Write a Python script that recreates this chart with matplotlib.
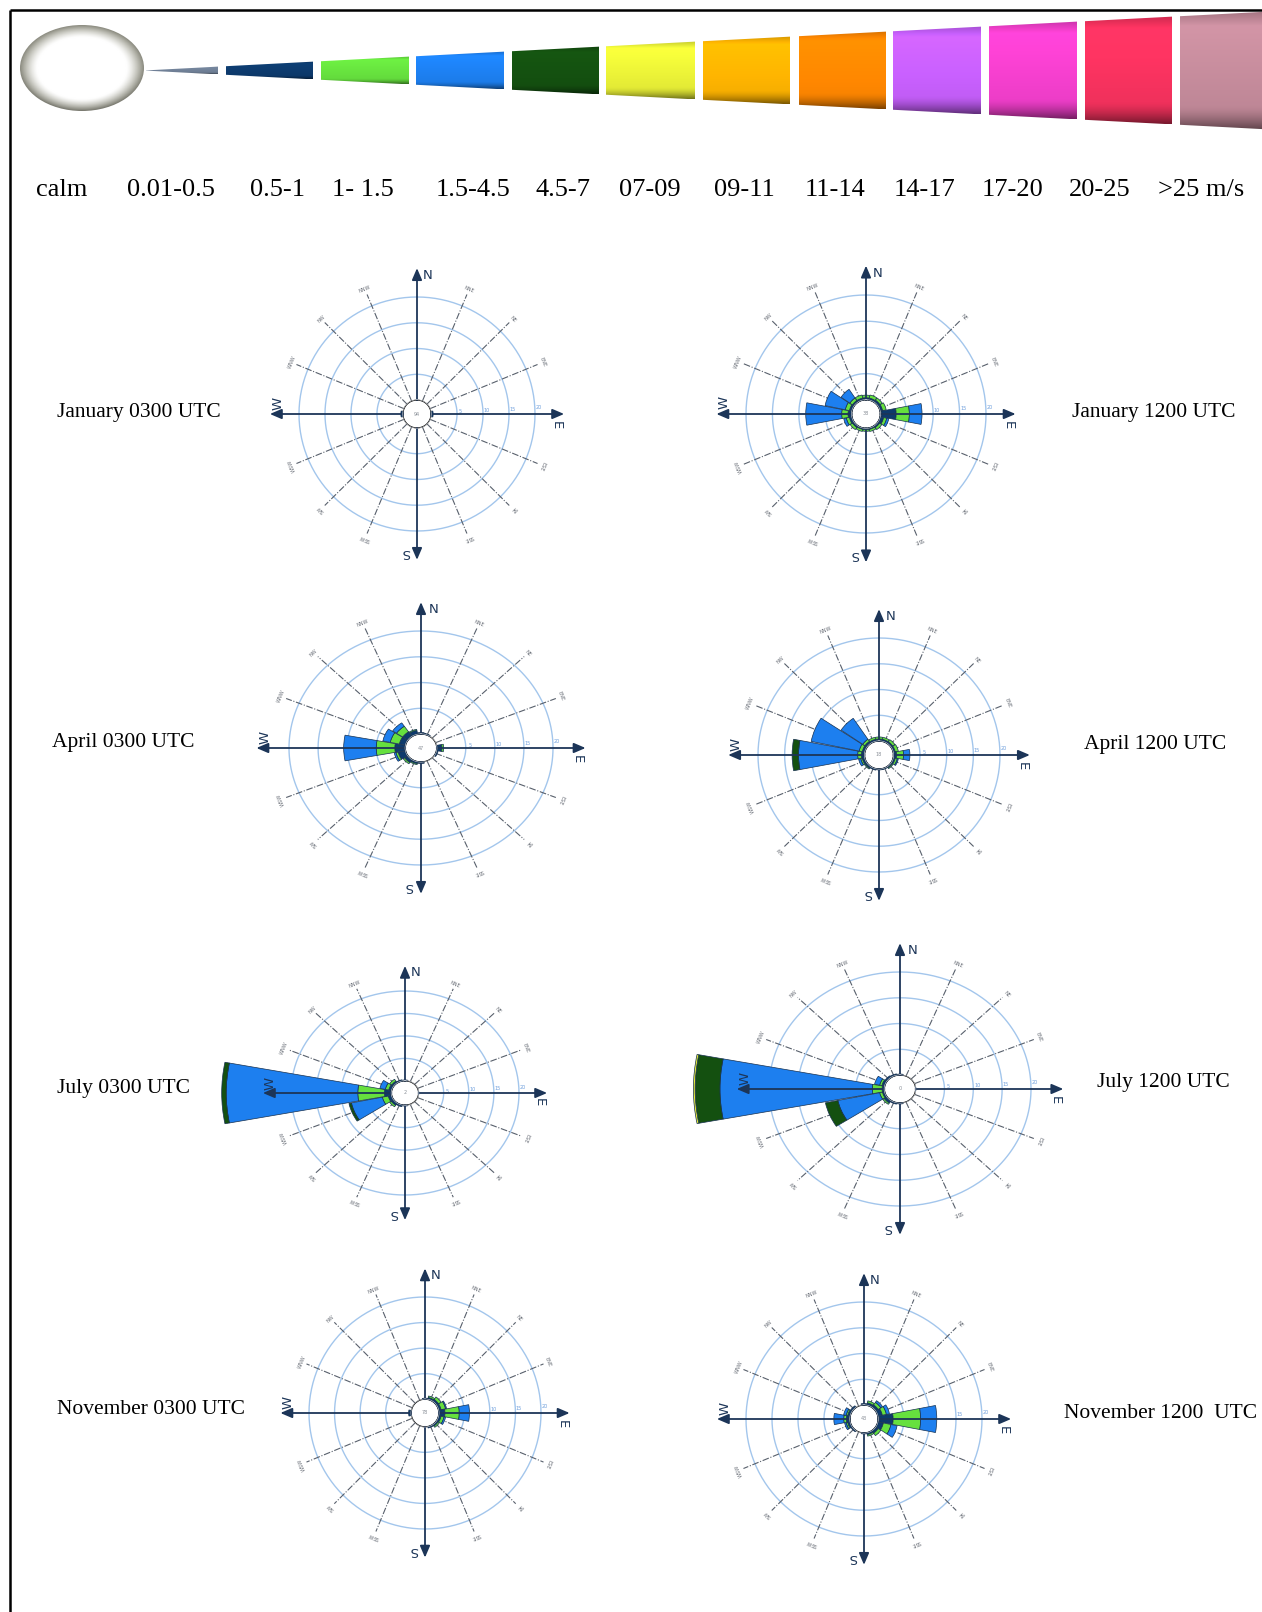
import numpy as np
import matplotlib.pyplot as plt
from matplotlib.patches import Polygon, Ellipse

W_PX, H_PX = 1262, 1612

# speed classes (m/s) and their colours
SPEED_LABELS = ['calm', '0.01-0.5', '0.5-1', '1- 1.5', '1.5-4.5', '4.5-7', '07-09',
                '09-11', '11-14', '14-17', '17-20', '20-25', '>25 m/s']
SPEED_COLORS = ['#6f7f95', '#0d3a6c', '#66e03e', '#1d7fef', '#145010', '#e9f037',
                '#fdb300', '#ff8700', '#c65ffb', '#f23fcc', '#f5325e', '#c38a9a']

DIRECTIONS = ['N', 'NNE', 'NE', 'ENE', 'E', 'ESE', 'SE', 'SSE',
              'S', 'SSW', 'SW', 'WSW', 'W', 'WNW', 'NW', 'NNW']
RING_VALUES = [5, 10, 15, 20]

# frequency (%) per direction, stacked by speed class
jan_0300 = {'E': [0.1, 0.3], 'W': [0.1, 0.3]}
jan_1200 = {
    'N': [0.1, 0.3, 0.5], 'NNE': [0.1, 0.3, 0.6], 'NE': [0.1, 0.4, 0.5], 'ENE': [0.1, 0.4, 0.7],
    'E': [0.3, 2.7, 2.5, 2.4], 'ESE': [0.1, 0.6, 0.6, 0.4], 'SE': [0.1, 0.3, 0.5], 'SSE': [0.1, 0.2, 0.4],
    'S': [0.1, 0.2, 0.3], 'SSW': [0.1, 0.2, 0.4], 'SW': [0.1, 0.3, 0.5], 'WSW': [0.1, 0.4, 0.6, 0.5],
    'W': [0.1, 0.6, 1.2, 6.8], 'WNW': [0.1, 0.4, 0.8, 3.9], 'NW': [0.1, 0.3, 0.6, 2.0], 'NNW': [0.1, 0.3, 0.6],
}
apr_0300 = {
    'N': [0.1, 0.2], 'NNE': [0.1, 0.1], 'E': [0.1, 0.8, 0.3], 'ESE': [0.1, 0.2],
    'S': [0.1, 0.2], 'SSW': [0.1, 0.3, 0.2], 'SW': [0.1, 0.6, 0.3], 'WSW': [0.1, 1.2, 0.4, 0.3],
    'W': [0.1, 1.7, 3.2, 5.6], 'WNW': [0.1, 1.0, 1.6, 1.3], 'NW': [0.1, 1.0, 1.3, 0.8], 'NNW': [0.1, 0.7, 0.2],
}
apr_1200 = {
    'N': [0.1, 0.3, 0.4], 'NNE': [0.1, 0.3, 0.4], 'NE': [0.1, 0.3, 0.5], 'ENE': [0.1, 0.3, 0.6],
    'E': [0.1, 0.5, 1.3, 1.2], 'ESE': [0.1, 0.3, 0.4, 0.2], 'SE': [0.1, 0.2, 0.2], 'SSE': [0.1, 0.1],
    'S': [0.1, 0.1], 'SSW': [0.1, 0.2], 'SW': [0.1, 0.3, 0.2], 'WSW': [0.1, 0.4, 0.3, 0.4],
    'W': [0.1, 0.5, 0.7, 11.1, 1.2], 'WNW': [0.1, 0.4, 0.6, 9.2], 'NW': [0.1, 0.4, 0.5, 4.9], 'NNW': [0.1, 0.3, 0.4],
}
jul_0300 = {
    'N': [0.1, 0.1], 'E': [0.05], 'S': [0.1, 0.1], 'SSW': [0.1, 0.3], 'SW': [0.1, 0.5, 0.4],
    'WSW': [0.1, 0.6, 1.2, 6.3, 0.5], 'W': [0.2, 1.2, 5.3, 26.2, 0.9],
    'WNW': [0.1, 0.5, 0.7, 1.1], 'NW': [0.1, 0.4, 0.5], 'NNW': [0.1, 0.2],
}
jul_1200 = {
    'N': [0.1, 0.1], 'NNW': [0.1, 0.2], 'NW': [0.1, 0.3], 'WNW': [0.1, 0.4, 0.4, 0.9],
    'W': [0.1, 0.3, 1.7, 26.4, 4.3, 0.3], 'WSW': [0.1, 0.3, 0.5, 7.4, 2.2],
    'SW': [0.1, 0.5, 0.3], 'SSW': [0.1, 0.2], 'S': [0.1, 0.1], 'E': [0.05],
}
nov_0300 = {
    'N': [0.1, 0.1], 'NNE': [0.1, 0.3, 0.3], 'NE': [0.1, 0.4, 0.6], 'ENE': [0.1, 0.4, 0.9, 0.2],
    'E': [0.1, 1.1, 2.8, 2.0], 'ESE': [0.1, 0.4, 0.6, 0.3], 'SE': [0.1, 0.3, 0.3], 'SSE': [0.1, 0.2],
    'W': [0.1, 0.4],
}
nov_1200 = {
    'N': [0.1, 0.2], 'NNE': [0.1, 0.4, 0.4], 'NE': [0.1, 0.5, 0.6, 0.4], 'ENE': [0.1, 0.8, 0.8, 0.6],
    'E': [0.2, 2.7, 5.3, 3.1], 'ESE': [0.1, 1.0, 1.5, 1.2], 'SE': [0.1, 0.5, 0.6], 'SSE': [0.1, 0.3, 0.3],
    'S': [0.1, 0.1], 'SW': [0.1, 0.2], 'WSW': [0.1, 0.4, 0.3, 0.3], 'W': [0.1, 0.6, 0.5, 1.9],
    'WNW': [0.1, 0.4, 0.3, 0.5], 'NW': [0.1, 0.3],
}

ROSE_TITLES = ['January 0300 UTC', 'January 1200 UTC', 'April 0300 UTC', 'April 1200 UTC',
               'July 0300 UTC', 'July 1200 UTC', 'November 0300 UTC', 'November 1200  UTC']
ROSE_DATA = [jan_0300, jan_1200, apr_0300, apr_1200, jul_0300, jul_1200, nov_0300, nov_1200]
CALM_VALUES = ['94', '38', '47', '18', '2', '0', '78', '43']

# rose centre / half sizes (px) and title anchor (px)
ROSE_BOX = [(417, 414, 118, 117), (866, 414, 120, 119), (421, 748, 132, 117), (879, 755, 121, 117),
            (405, 1093, 114, 102), (900, 1089, 131, 117), (425, 1413, 116, 116), (864, 1419, 118, 117)]
TITLE_POS = [(57, 412), (1072, 412), (52, 742), (1084, 745),
             (57, 1088), (1097, 1082), (57, 1410), (1064, 1413)]

LEGEND_X = [36, 127, 250, 332, 436, 536, 619, 714, 805, 894, 982, 1069, 1158]
SEGMENT_X = [(146, 218), (226, 313), (321, 409), (416, 504), (512, 599), (606, 695),
             (703, 790), (799, 886), (893, 981), (989, 1077), (1085, 1172), (1180, 1270)]

HOLE = 2.7
SPOKE_R = 22.4
ARROW_R = 25.6
RING_COLOR = '#a3c6ec'
AXIS_COLOR = '#1c3558'
SPOKE_COLOR = '#58606c'
SERIF = 'Liberation Serif'

fig = plt.figure(figsize=(W_PX / 100, H_PX / 100), dpi=100)

# background layer: frame and the speed scale
bg = fig.add_axes([0, 0, 1, 1])
bg.axis('off')
bg.plot([10, 10], [10, H_PX], color='black', lw=1.8, solid_capstyle='butt')
bg.plot([10, W_PX], [10, 10], color='black', lw=1.8, solid_capstyle='butt')

tip_x, mid_y, slope = 144, 70.5, 0.0524
v = np.linspace(0, 1, 60)[:, None]
shade = 1.1 - 0.15 * v - 0.45 * np.clip((v - 0.8) / 0.2, 0, 1) ** 1.5 - 0.25 * np.clip((0.12 - v) / 0.12, 0, 1)
for (x0, x1), col in zip(SEGMENT_X, SPEED_COLORS):
    h0, h1 = slope * (x0 - tip_x), slope * (x1 - tip_x)
    verts = [(x0, mid_y - h0), (x1, mid_y - h1), (x1, mid_y + h1), (x0, mid_y + h0)]
    poly = Polygon(verts, closed=True, facecolor='none', edgecolor='none')
    bg.add_patch(poly)
    rgb = np.array(plt.matplotlib.colors.to_rgb(col))
    img = np.clip(rgb[None, None, :] * shade[:, :, None], 0, 1)
    img = np.repeat(img, 2, axis=1)
    im = bg.imshow(img, extent=(x0, x1, mid_y + h1, mid_y - h1), origin='upper',
                   aspect='auto', interpolation='bilinear')
    im.set_clip_path(poly)

# calm disc: white face with a grey rim
ecx, ecy, ea, eb = 82, 68, 62, 43
gx, gy = np.meshgrid(np.linspace(-1, 1, 200), np.linspace(-1, 1, 140))
rr = np.sqrt(gx ** 2 + gy ** 2)
rim = np.clip((rr - 0.72) / 0.28, 0, 1) ** 1.4
tone = 1 - 0.45 * rim - 0.08 * np.clip(gy, 0, 1) * rim
disc = np.dstack([tone, tone, tone * (1 - 0.08 * rim)])
ell = Ellipse((ecx, ecy), 2 * ea, 2 * eb, facecolor='none', edgecolor='none')
bg.add_patch(ell)
im = bg.imshow(np.clip(disc, 0, 1), extent=(ecx - ea, ecx + ea, ecy + eb, ecy - eb),
               origin='upper', aspect='auto', interpolation='bilinear')
im.set_clip_path(ell)

bg.set_xlim(0, W_PX)
bg.set_ylim(H_PX, 0)

for x, lab in zip(LEGEND_X, SPEED_LABELS):
    fig.text(x / W_PX, 1 - 190 / H_PX, lab, fontsize=19, family=SERIF, ha='left', va='center')

thetas = np.radians(np.arange(16) * 22.5)
bar_w = np.radians(22.5) * 0.96
circle = np.linspace(0, 2 * np.pi, 361)


def draw_rose(box, data, calm):
    cx, cy, rx, ry = box
    ax = fig.add_axes([(cx - rx) / W_PX, 1 - (cy + ry) / H_PX, 2 * rx / W_PX, 2 * ry / H_PX],
                      projection='polar')
    ax.set_theta_zero_location('N')
    ax.set_theta_direction(-1)
    ax.set_ylim(0, 20)
    ax.set_rorigin(-HOLE)
    ax.set_aspect('auto')
    ax.set_xticks([])
    ax.set_yticks([])
    ax.grid(False)
    for sp in ax.spines.values():
        sp.set_visible(False)
    ax.patch.set_alpha(0)

    for r in RING_VALUES:
        ax.plot(circle, np.full_like(circle, r), color=RING_COLOR, lw=1.0, zorder=1, clip_on=False)
        ax.text(np.radians(87), r + 0.7, str(r), fontsize=3.5, color='#6f9fdc',
                ha='center', va='center', zorder=1)
    ax.plot(circle, np.zeros_like(circle), color='#cfd3d8', lw=0.8, zorder=5)

    for i, name in enumerate(DIRECTIONS):
        th = thetas[i]
        if name in ('N', 'E', 'S', 'W'):
            ax.annotate('', xy=(th, ARROW_R), xytext=(th, 0), annotation_clip=False,
                        arrowprops=dict(arrowstyle='-|>,head_length=0.7,head_width=0.3',
                                        color=AXIS_COLOR, lw=1.3, shrinkA=0, shrinkB=0),
                        zorder=4)
            ax.text(th + np.radians(4.5), ARROW_R - 1.4, name, fontsize=9.5, color=AXIS_COLOR,
                    rotation=-i * 22.5, rotation_mode='anchor', ha='center', va='center',
                    zorder=4, clip_on=False)
        else:
            ax.plot([th, th], [0, SPOKE_R], color=SPOKE_COLOR, lw=0.8,
                    ls=(0, (6, 1.5, 1, 1.5)), zorder=2, clip_on=False)
            ax.text(th, SPOKE_R + 1.0, name, fontsize=3.6, color='#6a6f78',
                    rotation=-i * 22.5, rotation_mode='anchor', ha='center', va='center',
                    clip_on=False)

    for name, segs in data.items():
        th = thetas[DIRECTIONS.index(name)]
        bottom = 0.0
        for k, val in enumerate(segs):
            ax.bar(th, val, width=bar_w, bottom=bottom, color=SPEED_COLORS[k],
                   edgecolor='#16304f', linewidth=0.5, zorder=3, clip_on=False)
            bottom += val

    ax.text(0.5, 0.5, calm, transform=ax.transAxes, fontsize=3.5, color='#8a9098',
            ha='center', va='center', zorder=6)


for box, data, calm in zip(ROSE_BOX, ROSE_DATA, CALM_VALUES):
    draw_rose(box, data, calm)

for (x, y), title in zip(TITLE_POS, ROSE_TITLES):
    fig.text(x / W_PX, 1 - y / H_PX, title, fontsize=15.5, family=SERIF, ha='left', va='center')

fig.savefig('out.png', dpi=100)
